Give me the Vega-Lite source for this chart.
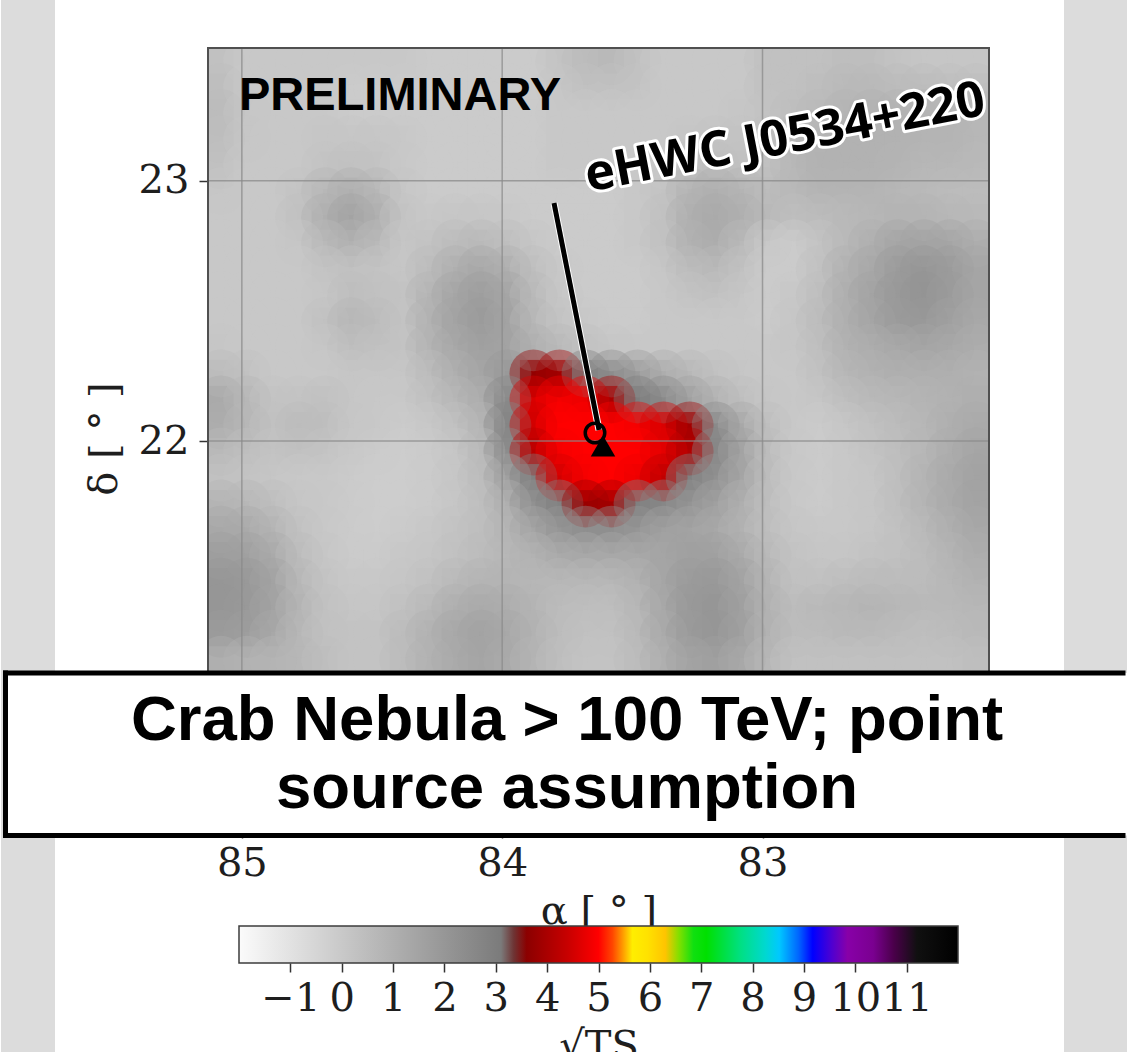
{
  "$schema": "https://vega.github.io/schema/vega-lite/v6.json",
  "background": "#ffffff",
  "padding": 0,
  "autosize": {"type": "pad"},
  "bounds": "flush",
  "center": true,
  "spacing": 97,
  "config": {"view": {"stroke": null}, "axis": {"grid": false, "domain": false}},
  "datasets": {
    "tsmap": [
{"ra":85.08,"dec":23.46,"v":0.3},{"ra":84.98,"dec":23.46,"v":0},{"ra":84.88,"dec":23.46,"v":0},{"ra":84.78,"dec":23.46,"v":0},{"ra":84.68,"dec":23.46,"v":0},{"ra":84.58,"dec":23.46,"v":0},{"ra":84.48,"dec":23.46,"v":0},{"ra":84.38,"dec":23.46,"v":0},{"ra":84.28,"dec":23.46,"v":-0.1},{"ra":84.18,"dec":23.46,"v":-0.1},{"ra":84.08,"dec":23.46,"v":-0.1},{"ra":83.98,"dec":23.46,"v":-0.1},{"ra":83.88,"dec":23.46,"v":-0.1},{"ra":83.78,"dec":23.46,"v":0.2},{"ra":83.68,"dec":23.46,"v":0.5},{"ra":83.58,"dec":23.46,"v":0.6},{"ra":83.48,"dec":23.46,"v":0.3},{"ra":83.38,"dec":23.46,"v":0},{"ra":83.28,"dec":23.46,"v":0},{"ra":83.18,"dec":23.46,"v":0},{"ra":83.08,"dec":23.46,"v":0},{"ra":82.98,"dec":23.46,"v":0.3},{"ra":82.88,"dec":23.46,"v":0.3},{"ra":82.78,"dec":23.46,"v":0.3},{"ra":82.68,"dec":23.46,"v":0.4},{"ra":82.58,"dec":23.46,"v":0.4},{"ra":82.48,"dec":23.46,"v":0.2},{"ra":82.38,"dec":23.46,"v":0.1},{"ra":82.28,"dec":23.46,"v":0.1},{"ra":82.18,"dec":23.46,"v":0.1},
{"ra":85.08,"dec":23.36,"v":0.4},{"ra":84.98,"dec":23.36,"v":0},{"ra":84.88,"dec":23.36,"v":0},{"ra":84.78,"dec":23.36,"v":0},{"ra":84.68,"dec":23.36,"v":0},{"ra":84.58,"dec":23.36,"v":-0.1},{"ra":84.48,"dec":23.36,"v":-0.1},{"ra":84.38,"dec":23.36,"v":-0.1},{"ra":84.28,"dec":23.36,"v":-0.1},{"ra":84.18,"dec":23.36,"v":-0.1},{"ra":84.08,"dec":23.36,"v":-0.1},{"ra":83.98,"dec":23.36,"v":-0.1},{"ra":83.88,"dec":23.36,"v":-0.1},{"ra":83.78,"dec":23.36,"v":0.1},{"ra":83.68,"dec":23.36,"v":0.3},{"ra":83.58,"dec":23.36,"v":0.3},{"ra":83.48,"dec":23.36,"v":0.2},{"ra":83.38,"dec":23.36,"v":0},{"ra":83.28,"dec":23.36,"v":0},{"ra":83.18,"dec":23.36,"v":0},{"ra":83.08,"dec":23.36,"v":0},{"ra":82.98,"dec":23.36,"v":0.3},{"ra":82.88,"dec":23.36,"v":0.3},{"ra":82.78,"dec":23.36,"v":0.4},{"ra":82.68,"dec":23.36,"v":0.6},{"ra":82.58,"dec":23.36,"v":0.6},{"ra":82.48,"dec":23.36,"v":0.5},{"ra":82.38,"dec":23.36,"v":0.5},{"ra":82.28,"dec":23.36,"v":0.4},{"ra":82.18,"dec":23.36,"v":0.4},
{"ra":85.08,"dec":23.26,"v":0.5},{"ra":84.98,"dec":23.26,"v":0.1},{"ra":84.88,"dec":23.26,"v":0},{"ra":84.78,"dec":23.26,"v":0},{"ra":84.68,"dec":23.26,"v":0},{"ra":84.58,"dec":23.26,"v":-0.1},{"ra":84.48,"dec":23.26,"v":-0.1},{"ra":84.38,"dec":23.26,"v":-0.1},{"ra":84.28,"dec":23.26,"v":-0.1},{"ra":84.18,"dec":23.26,"v":-0.1},{"ra":84.08,"dec":23.26,"v":-0.1},{"ra":83.98,"dec":23.26,"v":-0.1},{"ra":83.88,"dec":23.26,"v":-0.1},{"ra":83.78,"dec":23.26,"v":0},{"ra":83.68,"dec":23.26,"v":0},{"ra":83.58,"dec":23.26,"v":0},{"ra":83.48,"dec":23.26,"v":0},{"ra":83.38,"dec":23.26,"v":0},{"ra":83.28,"dec":23.26,"v":0},{"ra":83.18,"dec":23.26,"v":0},{"ra":83.08,"dec":23.26,"v":0.1},{"ra":82.98,"dec":23.26,"v":0.2},{"ra":82.88,"dec":23.26,"v":0.4},{"ra":82.78,"dec":23.26,"v":0.6},{"ra":82.68,"dec":23.26,"v":0.8},{"ra":82.58,"dec":23.26,"v":0.9},{"ra":82.48,"dec":23.26,"v":0.9},{"ra":82.38,"dec":23.26,"v":0.8},{"ra":82.28,"dec":23.26,"v":0.8},{"ra":82.18,"dec":23.26,"v":0.7},
{"ra":85.08,"dec":23.16,"v":0.4},{"ra":84.98,"dec":23.16,"v":0.1},{"ra":84.88,"dec":23.16,"v":0},{"ra":84.78,"dec":23.16,"v":0},{"ra":84.68,"dec":23.16,"v":0.1},{"ra":84.58,"dec":23.16,"v":0.1},{"ra":84.48,"dec":23.16,"v":0.1},{"ra":84.38,"dec":23.16,"v":0},{"ra":84.28,"dec":23.16,"v":-0.1},{"ra":84.18,"dec":23.16,"v":-0.1},{"ra":84.08,"dec":23.16,"v":-0.1},{"ra":83.98,"dec":23.16,"v":-0.1},{"ra":83.88,"dec":23.16,"v":-0.1},{"ra":83.78,"dec":23.16,"v":0},{"ra":83.68,"dec":23.16,"v":0},{"ra":83.58,"dec":23.16,"v":0},{"ra":83.48,"dec":23.16,"v":0},{"ra":83.38,"dec":23.16,"v":0},{"ra":83.28,"dec":23.16,"v":0.1},{"ra":83.18,"dec":23.16,"v":0.2},{"ra":83.08,"dec":23.16,"v":0.2},{"ra":82.98,"dec":23.16,"v":0.3},{"ra":82.88,"dec":23.16,"v":0.6},{"ra":82.78,"dec":23.16,"v":0.8},{"ra":82.68,"dec":23.16,"v":0.9},{"ra":82.58,"dec":23.16,"v":0.9},{"ra":82.48,"dec":23.16,"v":0.9},{"ra":82.38,"dec":23.16,"v":0.8},{"ra":82.28,"dec":23.16,"v":0.8},{"ra":82.18,"dec":23.16,"v":0.7},
{"ra":85.08,"dec":23.06,"v":0.3},{"ra":84.98,"dec":23.06,"v":0},{"ra":84.88,"dec":23.06,"v":0},{"ra":84.78,"dec":23.06,"v":0},{"ra":84.68,"dec":23.06,"v":0.2},{"ra":84.58,"dec":23.06,"v":0.3},{"ra":84.48,"dec":23.06,"v":0.2},{"ra":84.38,"dec":23.06,"v":0},{"ra":84.28,"dec":23.06,"v":-0.1},{"ra":84.18,"dec":23.06,"v":-0.1},{"ra":84.08,"dec":23.06,"v":-0.1},{"ra":83.98,"dec":23.06,"v":-0.1},{"ra":83.88,"dec":23.06,"v":-0.1},{"ra":83.78,"dec":23.06,"v":0},{"ra":83.68,"dec":23.06,"v":0},{"ra":83.58,"dec":23.06,"v":0},{"ra":83.48,"dec":23.06,"v":0},{"ra":83.38,"dec":23.06,"v":0},{"ra":83.28,"dec":23.06,"v":0.3},{"ra":83.18,"dec":23.06,"v":0.4},{"ra":83.08,"dec":23.06,"v":0.3},{"ra":82.98,"dec":23.06,"v":0.3},{"ra":82.88,"dec":23.06,"v":0.7},{"ra":82.78,"dec":23.06,"v":0.9},{"ra":82.68,"dec":23.06,"v":0.9},{"ra":82.58,"dec":23.06,"v":0.9},{"ra":82.48,"dec":23.06,"v":0.8},{"ra":82.38,"dec":23.06,"v":0.7},{"ra":82.28,"dec":23.06,"v":0.7},{"ra":82.18,"dec":23.06,"v":0.6},
{"ra":85.08,"dec":22.96,"v":0.1},{"ra":84.98,"dec":22.96,"v":0},{"ra":84.88,"dec":22.96,"v":0},{"ra":84.78,"dec":22.96,"v":0.2},{"ra":84.68,"dec":22.96,"v":0.7},{"ra":84.58,"dec":22.96,"v":1.0},{"ra":84.48,"dec":22.96,"v":0.7},{"ra":84.38,"dec":22.96,"v":0.1},{"ra":84.28,"dec":22.96,"v":-0.1},{"ra":84.18,"dec":22.96,"v":-0.1},{"ra":84.08,"dec":22.96,"v":-0.1},{"ra":83.98,"dec":22.96,"v":-0.1},{"ra":83.88,"dec":22.96,"v":-0.1},{"ra":83.78,"dec":22.96,"v":-0.1},{"ra":83.68,"dec":22.96,"v":-0.1},{"ra":83.58,"dec":22.96,"v":-0.1},{"ra":83.48,"dec":22.96,"v":0},{"ra":83.38,"dec":22.96,"v":0.2},{"ra":83.28,"dec":22.96,"v":0.8},{"ra":83.18,"dec":22.96,"v":1.0},{"ra":83.08,"dec":22.96,"v":0.8},{"ra":82.98,"dec":22.96,"v":0.5},{"ra":82.88,"dec":22.96,"v":0.6},{"ra":82.78,"dec":22.96,"v":0.8},{"ra":82.68,"dec":22.96,"v":0.8},{"ra":82.58,"dec":22.96,"v":0.8},{"ra":82.48,"dec":22.96,"v":0.7},{"ra":82.38,"dec":22.96,"v":0.6},{"ra":82.28,"dec":22.96,"v":0.5},{"ra":82.18,"dec":22.96,"v":0.5},
{"ra":85.08,"dec":22.86,"v":0},{"ra":84.98,"dec":22.86,"v":0},{"ra":84.88,"dec":22.86,"v":0},{"ra":84.78,"dec":22.86,"v":0.3},{"ra":84.68,"dec":22.86,"v":1.0},{"ra":84.58,"dec":22.86,"v":1.5},{"ra":84.48,"dec":22.86,"v":1.0},{"ra":84.38,"dec":22.86,"v":0.2},{"ra":84.28,"dec":22.86,"v":0},{"ra":84.18,"dec":22.86,"v":0.1},{"ra":84.08,"dec":22.86,"v":0.1},{"ra":83.98,"dec":22.86,"v":0},{"ra":83.88,"dec":22.86,"v":-0.1},{"ra":83.78,"dec":22.86,"v":-0.1},{"ra":83.68,"dec":22.86,"v":-0.1},{"ra":83.58,"dec":22.86,"v":-0.1},{"ra":83.48,"dec":22.86,"v":0},{"ra":83.38,"dec":22.86,"v":0.3},{"ra":83.28,"dec":22.86,"v":1.0},{"ra":83.18,"dec":22.86,"v":1.2},{"ra":83.08,"dec":22.86,"v":1.0},{"ra":82.98,"dec":22.86,"v":0.6},{"ra":82.88,"dec":22.86,"v":0.4},{"ra":82.78,"dec":22.86,"v":0.5},{"ra":82.68,"dec":22.86,"v":0.6},{"ra":82.58,"dec":22.86,"v":0.7},{"ra":82.48,"dec":22.86,"v":0.8},{"ra":82.38,"dec":22.86,"v":0.8},{"ra":82.28,"dec":22.86,"v":0.7},{"ra":82.18,"dec":22.86,"v":0.6},
{"ra":85.08,"dec":22.76,"v":0},{"ra":84.98,"dec":22.76,"v":0},{"ra":84.88,"dec":22.76,"v":0},{"ra":84.78,"dec":22.76,"v":0.1},{"ra":84.68,"dec":22.76,"v":0.6},{"ra":84.58,"dec":22.76,"v":0.9},{"ra":84.48,"dec":22.76,"v":0.6},{"ra":84.38,"dec":22.76,"v":0.1},{"ra":84.28,"dec":22.76,"v":0.2},{"ra":84.18,"dec":22.76,"v":0.5},{"ra":84.08,"dec":22.76,"v":0.6},{"ra":83.98,"dec":22.76,"v":0.4},{"ra":83.88,"dec":22.76,"v":0.1},{"ra":83.78,"dec":22.76,"v":-0.1},{"ra":83.68,"dec":22.76,"v":-0.1},{"ra":83.58,"dec":22.76,"v":-0.1},{"ra":83.48,"dec":22.76,"v":0},{"ra":83.38,"dec":22.76,"v":0.3},{"ra":83.28,"dec":22.76,"v":0.9},{"ra":83.18,"dec":22.76,"v":1.1},{"ra":83.08,"dec":22.76,"v":0.6},{"ra":82.98,"dec":22.76,"v":0},{"ra":82.88,"dec":22.76,"v":-0.1},{"ra":82.78,"dec":22.76,"v":0.2},{"ra":82.68,"dec":22.76,"v":0.6},{"ra":82.58,"dec":22.76,"v":1.0},{"ra":82.48,"dec":22.76,"v":1.4},{"ra":82.38,"dec":22.76,"v":1.5},{"ra":82.28,"dec":22.76,"v":1.4},{"ra":82.18,"dec":22.76,"v":1.1},
{"ra":85.08,"dec":22.66,"v":0},{"ra":84.98,"dec":22.66,"v":0},{"ra":84.88,"dec":22.66,"v":0},{"ra":84.78,"dec":22.66,"v":0},{"ra":84.68,"dec":22.66,"v":0.2},{"ra":84.58,"dec":22.66,"v":0.3},{"ra":84.48,"dec":22.66,"v":0.2},{"ra":84.38,"dec":22.66,"v":0.1},{"ra":84.28,"dec":22.66,"v":0.5},{"ra":84.18,"dec":22.66,"v":1.0},{"ra":84.08,"dec":22.66,"v":1.3},{"ra":83.98,"dec":22.66,"v":1.0},{"ra":83.88,"dec":22.66,"v":0.4},{"ra":83.78,"dec":22.66,"v":0},{"ra":83.68,"dec":22.66,"v":-0.1},{"ra":83.58,"dec":22.66,"v":-0.1},{"ra":83.48,"dec":22.66,"v":-0.1},{"ra":83.38,"dec":22.66,"v":0.1},{"ra":83.28,"dec":22.66,"v":0.5},{"ra":83.18,"dec":22.66,"v":0.6},{"ra":83.08,"dec":22.66,"v":0.3},{"ra":82.98,"dec":22.66,"v":-0.1},{"ra":82.88,"dec":22.66,"v":-0.1},{"ra":82.78,"dec":22.66,"v":0.3},{"ra":82.68,"dec":22.66,"v":0.9},{"ra":82.58,"dec":22.66,"v":1.3},{"ra":82.48,"dec":22.66,"v":1.8},{"ra":82.38,"dec":22.66,"v":2.0},{"ra":82.28,"dec":22.66,"v":1.8},{"ra":82.18,"dec":22.66,"v":1.4},
{"ra":85.08,"dec":22.56,"v":0},{"ra":84.98,"dec":22.56,"v":0},{"ra":84.88,"dec":22.56,"v":0},{"ra":84.78,"dec":22.56,"v":0},{"ra":84.68,"dec":22.56,"v":0.1},{"ra":84.58,"dec":22.56,"v":0.4},{"ra":84.48,"dec":22.56,"v":0.3},{"ra":84.38,"dec":22.56,"v":0.2},{"ra":84.28,"dec":22.56,"v":0.8},{"ra":84.18,"dec":22.56,"v":1.4},{"ra":84.08,"dec":22.56,"v":1.7},{"ra":83.98,"dec":22.56,"v":1.4},{"ra":83.88,"dec":22.56,"v":0.6},{"ra":83.78,"dec":22.56,"v":0.1},{"ra":83.68,"dec":22.56,"v":-0.1},{"ra":83.58,"dec":22.56,"v":-0.1},{"ra":83.48,"dec":22.56,"v":-0.1},{"ra":83.38,"dec":22.56,"v":0},{"ra":83.28,"dec":22.56,"v":0.2},{"ra":83.18,"dec":22.56,"v":0.3},{"ra":83.08,"dec":22.56,"v":0.1},{"ra":82.98,"dec":22.56,"v":-0.1},{"ra":82.88,"dec":22.56,"v":0},{"ra":82.78,"dec":22.56,"v":0.4},{"ra":82.68,"dec":22.56,"v":1.0},{"ra":82.58,"dec":22.56,"v":1.5},{"ra":82.48,"dec":22.56,"v":1.9},{"ra":82.38,"dec":22.56,"v":2.1},{"ra":82.28,"dec":22.56,"v":1.8},{"ra":82.18,"dec":22.56,"v":1.4},
{"ra":85.08,"dec":22.46,"v":0},{"ra":84.98,"dec":22.46,"v":0},{"ra":84.88,"dec":22.46,"v":0},{"ra":84.78,"dec":22.46,"v":0},{"ra":84.68,"dec":22.46,"v":0.3},{"ra":84.58,"dec":22.46,"v":0.7},{"ra":84.48,"dec":22.46,"v":0.5},{"ra":84.38,"dec":22.46,"v":0.2},{"ra":84.28,"dec":22.46,"v":0.9},{"ra":84.18,"dec":22.46,"v":1.5},{"ra":84.08,"dec":22.46,"v":1.8},{"ra":83.98,"dec":22.46,"v":1.5},{"ra":83.88,"dec":22.46,"v":0.7},{"ra":83.78,"dec":22.46,"v":0.2},{"ra":83.68,"dec":22.46,"v":0},{"ra":83.58,"dec":22.46,"v":-0.1},{"ra":83.48,"dec":22.46,"v":-0.1},{"ra":83.38,"dec":22.46,"v":0},{"ra":83.28,"dec":22.46,"v":0},{"ra":83.18,"dec":22.46,"v":0},{"ra":83.08,"dec":22.46,"v":0},{"ra":82.98,"dec":22.46,"v":-0.1},{"ra":82.88,"dec":22.46,"v":0.1},{"ra":82.78,"dec":22.46,"v":0.5},{"ra":82.68,"dec":22.46,"v":1.0},{"ra":82.58,"dec":22.46,"v":1.4},{"ra":82.48,"dec":22.46,"v":1.8},{"ra":82.38,"dec":22.46,"v":1.9},{"ra":82.28,"dec":22.46,"v":1.6},{"ra":82.18,"dec":22.46,"v":1.3},
{"ra":85.08,"dec":22.36,"v":0.1},{"ra":84.98,"dec":22.36,"v":0},{"ra":84.88,"dec":22.36,"v":0},{"ra":84.78,"dec":22.36,"v":0},{"ra":84.68,"dec":22.36,"v":0.1},{"ra":84.58,"dec":22.36,"v":0.4},{"ra":84.48,"dec":22.36,"v":0.3},{"ra":84.38,"dec":22.36,"v":0.2},{"ra":84.28,"dec":22.36,"v":0.8},{"ra":84.18,"dec":22.36,"v":1.3},{"ra":84.08,"dec":22.36,"v":1.6},{"ra":83.98,"dec":22.36,"v":1.5},{"ra":83.88,"dec":22.36,"v":1.0},{"ra":83.78,"dec":22.36,"v":0.6},{"ra":83.68,"dec":22.36,"v":0.3},{"ra":83.58,"dec":22.36,"v":0.1},{"ra":83.48,"dec":22.36,"v":0},{"ra":83.38,"dec":22.36,"v":0},{"ra":83.28,"dec":22.36,"v":0},{"ra":83.18,"dec":22.36,"v":0},{"ra":83.08,"dec":22.36,"v":0},{"ra":82.98,"dec":22.36,"v":0},{"ra":82.88,"dec":22.36,"v":0.1},{"ra":82.78,"dec":22.36,"v":0.4},{"ra":82.68,"dec":22.36,"v":0.9},{"ra":82.58,"dec":22.36,"v":1.1},{"ra":82.48,"dec":22.36,"v":1.3},{"ra":82.38,"dec":22.36,"v":1.4},{"ra":82.28,"dec":22.36,"v":1.3},{"ra":82.18,"dec":22.36,"v":1.1},
{"ra":85.08,"dec":22.26,"v":0.5},{"ra":84.98,"dec":22.26,"v":0.3},{"ra":84.88,"dec":22.26,"v":0},{"ra":84.78,"dec":22.26,"v":0},{"ra":84.68,"dec":22.26,"v":0},{"ra":84.58,"dec":22.26,"v":0.1},{"ra":84.48,"dec":22.26,"v":0.1},{"ra":84.38,"dec":22.26,"v":0.1},{"ra":84.28,"dec":22.26,"v":0.5},{"ra":84.18,"dec":22.26,"v":1.0},{"ra":84.08,"dec":22.26,"v":1.4},{"ra":83.98,"dec":22.26,"v":1.9},{"ra":83.88,"dec":22.26,"v":3.7},{"ra":83.78,"dec":22.26,"v":3.9},{"ra":83.68,"dec":22.26,"v":2.9},{"ra":83.58,"dec":22.26,"v":2.4},{"ra":83.48,"dec":22.26,"v":1.8},{"ra":83.38,"dec":22.26,"v":1.1},{"ra":83.28,"dec":22.26,"v":0.7},{"ra":83.18,"dec":22.26,"v":0.3},{"ra":83.08,"dec":22.26,"v":0.1},{"ra":82.98,"dec":22.26,"v":0},{"ra":82.88,"dec":22.26,"v":0},{"ra":82.78,"dec":22.26,"v":0.3},{"ra":82.68,"dec":22.26,"v":0.7},{"ra":82.58,"dec":22.26,"v":0.9},{"ra":82.48,"dec":22.26,"v":1.0},{"ra":82.38,"dec":22.26,"v":1.0},{"ra":82.28,"dec":22.26,"v":1.0},{"ra":82.18,"dec":22.26,"v":0.9},
{"ra":85.08,"dec":22.16,"v":1.2},{"ra":84.98,"dec":22.16,"v":0.7},{"ra":84.88,"dec":22.16,"v":0.2},{"ra":84.78,"dec":22.16,"v":0.2},{"ra":84.68,"dec":22.16,"v":0.3},{"ra":84.58,"dec":22.16,"v":0.1},{"ra":84.48,"dec":22.16,"v":0},{"ra":84.38,"dec":22.16,"v":0},{"ra":84.28,"dec":22.16,"v":0.3},{"ra":84.18,"dec":22.16,"v":0.7},{"ra":84.08,"dec":22.16,"v":1.1},{"ra":83.98,"dec":22.16,"v":2.5},{"ra":83.88,"dec":22.16,"v":4.6},{"ra":83.78,"dec":22.16,"v":4.9},{"ra":83.68,"dec":22.16,"v":4.8},{"ra":83.58,"dec":22.16,"v":4.0},{"ra":83.48,"dec":22.16,"v":3.0},{"ra":83.38,"dec":22.16,"v":2.5},{"ra":83.28,"dec":22.16,"v":1.6},{"ra":83.18,"dec":22.16,"v":0.9},{"ra":83.08,"dec":22.16,"v":0.4},{"ra":82.98,"dec":22.16,"v":0.1},{"ra":82.88,"dec":22.16,"v":0},{"ra":82.78,"dec":22.16,"v":0.1},{"ra":82.68,"dec":22.16,"v":0.4},{"ra":82.58,"dec":22.16,"v":0.6},{"ra":82.48,"dec":22.16,"v":0.7},{"ra":82.38,"dec":22.16,"v":0.8},{"ra":82.28,"dec":22.16,"v":0.9},{"ra":82.18,"dec":22.16,"v":1.0},
{"ra":85.08,"dec":22.06,"v":1.1},{"ra":84.98,"dec":22.06,"v":0.7},{"ra":84.88,"dec":22.06,"v":0.3},{"ra":84.78,"dec":22.06,"v":0.5},{"ra":84.68,"dec":22.06,"v":0.4},{"ra":84.58,"dec":22.06,"v":0.1},{"ra":84.48,"dec":22.06,"v":0},{"ra":84.38,"dec":22.06,"v":-0.1},{"ra":84.28,"dec":22.06,"v":0},{"ra":84.18,"dec":22.06,"v":0.3},{"ra":84.08,"dec":22.06,"v":0.8},{"ra":83.98,"dec":22.06,"v":2.7},{"ra":83.88,"dec":22.06,"v":4.5},{"ra":83.78,"dec":22.06,"v":5.0},{"ra":83.68,"dec":22.06,"v":5.0},{"ra":83.58,"dec":22.06,"v":5.0},{"ra":83.48,"dec":22.06,"v":4.9},{"ra":83.38,"dec":22.06,"v":4.6},{"ra":83.28,"dec":22.06,"v":3.9},{"ra":83.18,"dec":22.06,"v":2.5},{"ra":83.08,"dec":22.06,"v":1.3},{"ra":82.98,"dec":22.06,"v":0.4},{"ra":82.88,"dec":22.06,"v":0},{"ra":82.78,"dec":22.06,"v":-0.1},{"ra":82.68,"dec":22.06,"v":0.1},{"ra":82.58,"dec":22.06,"v":0.3},{"ra":82.48,"dec":22.06,"v":0.5},{"ra":82.38,"dec":22.06,"v":0.7},{"ra":82.28,"dec":22.06,"v":1.0},{"ra":82.18,"dec":22.06,"v":1.2},
{"ra":85.08,"dec":21.96,"v":0.6},{"ra":84.98,"dec":21.96,"v":0.4},{"ra":84.88,"dec":21.96,"v":0.2},{"ra":84.78,"dec":21.96,"v":0.3},{"ra":84.68,"dec":21.96,"v":0.2},{"ra":84.58,"dec":21.96,"v":0},{"ra":84.48,"dec":21.96,"v":-0.1},{"ra":84.38,"dec":21.96,"v":-0.2},{"ra":84.28,"dec":21.96,"v":-0.1},{"ra":84.18,"dec":21.96,"v":0.1},{"ra":84.08,"dec":21.96,"v":0.6},{"ra":83.98,"dec":21.96,"v":2.4},{"ra":83.88,"dec":21.96,"v":4.2},{"ra":83.78,"dec":21.96,"v":4.9},{"ra":83.68,"dec":21.96,"v":5.0},{"ra":83.58,"dec":21.96,"v":5.0},{"ra":83.48,"dec":21.96,"v":5.0},{"ra":83.38,"dec":21.96,"v":4.7},{"ra":83.28,"dec":21.96,"v":4.1},{"ra":83.18,"dec":21.96,"v":2.6},{"ra":83.08,"dec":21.96,"v":1.5},{"ra":82.98,"dec":21.96,"v":0.5},{"ra":82.88,"dec":21.96,"v":0},{"ra":82.78,"dec":21.96,"v":-0.1},{"ra":82.68,"dec":21.96,"v":0},{"ra":82.58,"dec":21.96,"v":0.2},{"ra":82.48,"dec":21.96,"v":0.4},{"ra":82.38,"dec":21.96,"v":0.7},{"ra":82.28,"dec":21.96,"v":1.1},{"ra":82.18,"dec":21.96,"v":1.4},
{"ra":85.08,"dec":21.86,"v":0.3},{"ra":84.98,"dec":21.86,"v":0.2},{"ra":84.88,"dec":21.86,"v":0.1},{"ra":84.78,"dec":21.86,"v":0},{"ra":84.68,"dec":21.86,"v":0},{"ra":84.58,"dec":21.86,"v":-0.1},{"ra":84.48,"dec":21.86,"v":-0.2},{"ra":84.38,"dec":21.86,"v":-0.2},{"ra":84.28,"dec":21.86,"v":-0.1},{"ra":84.18,"dec":21.86,"v":0.1},{"ra":84.08,"dec":21.86,"v":0.5},{"ra":83.98,"dec":21.86,"v":1.6},{"ra":83.88,"dec":21.86,"v":2.9},{"ra":83.78,"dec":21.86,"v":4.5},{"ra":83.68,"dec":21.86,"v":4.9},{"ra":83.58,"dec":21.86,"v":5.0},{"ra":83.48,"dec":21.86,"v":4.8},{"ra":83.38,"dec":21.86,"v":4.3},{"ra":83.28,"dec":21.86,"v":2.9},{"ra":83.18,"dec":21.86,"v":2.2},{"ra":83.08,"dec":21.86,"v":1.4},{"ra":82.98,"dec":21.86,"v":0.5},{"ra":82.88,"dec":21.86,"v":0},{"ra":82.78,"dec":21.86,"v":-0.1},{"ra":82.68,"dec":21.86,"v":0},{"ra":82.58,"dec":21.86,"v":0.1},{"ra":82.48,"dec":21.86,"v":0.4},{"ra":82.38,"dec":21.86,"v":0.8},{"ra":82.28,"dec":21.86,"v":1.2},{"ra":82.18,"dec":21.86,"v":1.5},
{"ra":85.08,"dec":21.76,"v":0.8},{"ra":84.98,"dec":21.76,"v":0.7},{"ra":84.88,"dec":21.76,"v":0.4},{"ra":84.78,"dec":21.76,"v":0.1},{"ra":84.68,"dec":21.76,"v":0},{"ra":84.58,"dec":21.76,"v":-0.1},{"ra":84.48,"dec":21.76,"v":-0.2},{"ra":84.38,"dec":21.76,"v":-0.2},{"ra":84.28,"dec":21.76,"v":-0.1},{"ra":84.18,"dec":21.76,"v":0.1},{"ra":84.08,"dec":21.76,"v":0.4},{"ra":83.98,"dec":21.76,"v":1.0},{"ra":83.88,"dec":21.76,"v":2.2},{"ra":83.78,"dec":21.76,"v":2.8},{"ra":83.68,"dec":21.76,"v":3.8},{"ra":83.58,"dec":21.76,"v":3.9},{"ra":83.48,"dec":21.76,"v":2.9},{"ra":83.38,"dec":21.76,"v":2.6},{"ra":83.28,"dec":21.76,"v":2.1},{"ra":83.18,"dec":21.76,"v":1.6},{"ra":83.08,"dec":21.76,"v":1.0},{"ra":82.98,"dec":21.76,"v":0.4},{"ra":82.88,"dec":21.76,"v":0},{"ra":82.78,"dec":21.76,"v":-0.1},{"ra":82.68,"dec":21.76,"v":0},{"ra":82.58,"dec":21.76,"v":0.1},{"ra":82.48,"dec":21.76,"v":0.4},{"ra":82.38,"dec":21.76,"v":0.8},{"ra":82.28,"dec":21.76,"v":1.2},{"ra":82.18,"dec":21.76,"v":1.5},
{"ra":85.08,"dec":21.66,"v":1.3},{"ra":84.98,"dec":21.66,"v":1.2},{"ra":84.88,"dec":21.66,"v":0.8},{"ra":84.78,"dec":21.66,"v":0.3},{"ra":84.68,"dec":21.66,"v":0},{"ra":84.58,"dec":21.66,"v":-0.1},{"ra":84.48,"dec":21.66,"v":-0.2},{"ra":84.38,"dec":21.66,"v":-0.1},{"ra":84.28,"dec":21.66,"v":0},{"ra":84.18,"dec":21.66,"v":0.2},{"ra":84.08,"dec":21.66,"v":0.4},{"ra":83.98,"dec":21.66,"v":0.8},{"ra":83.88,"dec":21.66,"v":1.4},{"ra":83.78,"dec":21.66,"v":2.0},{"ra":83.68,"dec":21.66,"v":2.3},{"ra":83.58,"dec":21.66,"v":2.3},{"ra":83.48,"dec":21.66,"v":2.0},{"ra":83.38,"dec":21.66,"v":1.6},{"ra":83.28,"dec":21.66,"v":1.5},{"ra":83.18,"dec":21.66,"v":1.3},{"ra":83.08,"dec":21.66,"v":0.9},{"ra":82.98,"dec":21.66,"v":0.4},{"ra":82.88,"dec":21.66,"v":0.1},{"ra":82.78,"dec":21.66,"v":0},{"ra":82.68,"dec":21.66,"v":0},{"ra":82.58,"dec":21.66,"v":0.1},{"ra":82.48,"dec":21.66,"v":0.3},{"ra":82.38,"dec":21.66,"v":0.6},{"ra":82.28,"dec":21.66,"v":1.0},{"ra":82.18,"dec":21.66,"v":1.3},
{"ra":85.08,"dec":21.56,"v":1.7},{"ra":84.98,"dec":21.56,"v":1.6},{"ra":84.88,"dec":21.56,"v":1.2},{"ra":84.78,"dec":21.56,"v":0.5},{"ra":84.68,"dec":21.56,"v":0.1},{"ra":84.58,"dec":21.56,"v":-0.1},{"ra":84.48,"dec":21.56,"v":-0.1},{"ra":84.38,"dec":21.56,"v":0},{"ra":84.28,"dec":21.56,"v":0.1},{"ra":84.18,"dec":21.56,"v":0.3},{"ra":84.08,"dec":21.56,"v":0.5},{"ra":83.98,"dec":21.56,"v":0.7},{"ra":83.88,"dec":21.56,"v":0.9},{"ra":83.78,"dec":21.56,"v":1.2},{"ra":83.68,"dec":21.56,"v":1.3},{"ra":83.58,"dec":21.56,"v":1.3},{"ra":83.48,"dec":21.56,"v":1.3},{"ra":83.38,"dec":21.56,"v":1.4},{"ra":83.28,"dec":21.56,"v":1.6},{"ra":83.18,"dec":21.56,"v":1.6},{"ra":83.08,"dec":21.56,"v":1.2},{"ra":82.98,"dec":21.56,"v":0.6},{"ra":82.88,"dec":21.56,"v":0.2},{"ra":82.78,"dec":21.56,"v":0.1},{"ra":82.68,"dec":21.56,"v":0.1},{"ra":82.58,"dec":21.56,"v":0.2},{"ra":82.48,"dec":21.56,"v":0.3},{"ra":82.38,"dec":21.56,"v":0.5},{"ra":82.28,"dec":21.56,"v":0.8},{"ra":82.18,"dec":21.56,"v":1.1},
{"ra":85.08,"dec":21.46,"v":2.0},{"ra":84.98,"dec":21.46,"v":1.9},{"ra":84.88,"dec":21.46,"v":1.5},{"ra":84.78,"dec":21.46,"v":0.7},{"ra":84.68,"dec":21.46,"v":0.2},{"ra":84.58,"dec":21.46,"v":0},{"ra":84.48,"dec":21.46,"v":0},{"ra":84.38,"dec":21.46,"v":0.1},{"ra":84.28,"dec":21.46,"v":0.3},{"ra":84.18,"dec":21.46,"v":0.6},{"ra":84.08,"dec":21.46,"v":0.8},{"ra":83.98,"dec":21.46,"v":0.8},{"ra":83.88,"dec":21.46,"v":0.7},{"ra":83.78,"dec":21.46,"v":0.7},{"ra":83.68,"dec":21.46,"v":0.7},{"ra":83.58,"dec":21.46,"v":0.7},{"ra":83.48,"dec":21.46,"v":0.9},{"ra":83.38,"dec":21.46,"v":1.4},{"ra":83.28,"dec":21.46,"v":1.8},{"ra":83.18,"dec":21.46,"v":1.9},{"ra":83.08,"dec":21.46,"v":1.5},{"ra":82.98,"dec":21.46,"v":0.8},{"ra":82.88,"dec":21.46,"v":0.3},{"ra":82.78,"dec":21.46,"v":0.3},{"ra":82.68,"dec":21.46,"v":0.4},{"ra":82.58,"dec":21.46,"v":0.5},{"ra":82.48,"dec":21.46,"v":0.5},{"ra":82.38,"dec":21.46,"v":0.5},{"ra":82.28,"dec":21.46,"v":0.7},{"ra":82.18,"dec":21.46,"v":0.9},
{"ra":85.08,"dec":21.36,"v":2.0},{"ra":84.98,"dec":21.36,"v":1.9},{"ra":84.88,"dec":21.36,"v":1.5},{"ra":84.78,"dec":21.36,"v":0.8},{"ra":84.68,"dec":21.36,"v":0.3},{"ra":84.58,"dec":21.36,"v":0.1},{"ra":84.48,"dec":21.36,"v":0.1},{"ra":84.38,"dec":21.36,"v":0.3},{"ra":84.28,"dec":21.36,"v":0.6},{"ra":84.18,"dec":21.36,"v":1.0},{"ra":84.08,"dec":21.36,"v":1.2},{"ra":83.98,"dec":21.36,"v":1.1},{"ra":83.88,"dec":21.36,"v":0.8},{"ra":83.78,"dec":21.36,"v":0.5},{"ra":83.68,"dec":21.36,"v":0.4},{"ra":83.58,"dec":21.36,"v":0.4},{"ra":83.48,"dec":21.36,"v":0.7},{"ra":83.38,"dec":21.36,"v":1.3},{"ra":83.28,"dec":21.36,"v":1.9},{"ra":83.18,"dec":21.36,"v":2.0},{"ra":83.08,"dec":21.36,"v":1.6},{"ra":82.98,"dec":21.36,"v":0.9},{"ra":82.88,"dec":21.36,"v":0.5},{"ra":82.78,"dec":21.36,"v":0.6},{"ra":82.68,"dec":21.36,"v":0.7},{"ra":82.58,"dec":21.36,"v":0.8},{"ra":82.48,"dec":21.36,"v":0.7},{"ra":82.38,"dec":21.36,"v":0.6},{"ra":82.28,"dec":21.36,"v":0.6},{"ra":82.18,"dec":21.36,"v":0.7},
{"ra":85.08,"dec":21.26,"v":1.8},{"ra":84.98,"dec":21.26,"v":1.7},{"ra":84.88,"dec":21.26,"v":1.3},{"ra":84.78,"dec":21.26,"v":0.7},{"ra":84.68,"dec":21.26,"v":0.3},{"ra":84.58,"dec":21.26,"v":0.2},{"ra":84.48,"dec":21.26,"v":0.2},{"ra":84.38,"dec":21.26,"v":0.5},{"ra":84.28,"dec":21.26,"v":0.9},{"ra":84.18,"dec":21.26,"v":1.3},{"ra":84.08,"dec":21.26,"v":1.5},{"ra":83.98,"dec":21.26,"v":1.3},{"ra":83.88,"dec":21.26,"v":0.9},{"ra":83.78,"dec":21.26,"v":0.5},{"ra":83.68,"dec":21.26,"v":0.3},{"ra":83.58,"dec":21.26,"v":0.3},{"ra":83.48,"dec":21.26,"v":0.6},{"ra":83.38,"dec":21.26,"v":1.2},{"ra":83.28,"dec":21.26,"v":1.8},{"ra":83.18,"dec":21.26,"v":2.0},{"ra":83.08,"dec":21.26,"v":1.6},{"ra":82.98,"dec":21.26,"v":0.9},{"ra":82.88,"dec":21.26,"v":0.5},{"ra":82.78,"dec":21.26,"v":0.5},{"ra":82.68,"dec":21.26,"v":0.6},{"ra":82.58,"dec":21.26,"v":0.6},{"ra":82.48,"dec":21.26,"v":0.5},{"ra":82.38,"dec":21.26,"v":0.4},{"ra":82.28,"dec":21.26,"v":0.5},{"ra":82.18,"dec":21.26,"v":0.6},
{"ra":85.08,"dec":21.16,"v":1.0},{"ra":84.98,"dec":21.16,"v":0.9},{"ra":84.88,"dec":21.16,"v":0.8},{"ra":84.78,"dec":21.16,"v":0.7},{"ra":84.68,"dec":21.16,"v":0.4},{"ra":84.58,"dec":21.16,"v":0.2},{"ra":84.48,"dec":21.16,"v":0.2},{"ra":84.38,"dec":21.16,"v":0.5},{"ra":84.28,"dec":21.16,"v":0.9},{"ra":84.18,"dec":21.16,"v":1.2},{"ra":84.08,"dec":21.16,"v":1.4},{"ra":83.98,"dec":21.16,"v":1.2},{"ra":83.88,"dec":21.16,"v":0.8},{"ra":83.78,"dec":21.16,"v":0.4},{"ra":83.68,"dec":21.16,"v":0.2},{"ra":83.58,"dec":21.16,"v":0.2},{"ra":83.48,"dec":21.16,"v":0.5},{"ra":83.38,"dec":21.16,"v":1.0},{"ra":83.28,"dec":21.16,"v":1.5},{"ra":83.18,"dec":21.16,"v":1.6},{"ra":83.08,"dec":21.16,"v":1.3},{"ra":82.98,"dec":21.16,"v":0.7},{"ra":82.88,"dec":21.16,"v":0.3},{"ra":82.78,"dec":21.16,"v":0.3},{"ra":82.68,"dec":21.16,"v":0.3},{"ra":82.58,"dec":21.16,"v":0.3},{"ra":82.48,"dec":21.16,"v":0.3},{"ra":82.38,"dec":21.16,"v":0.3},{"ra":82.28,"dec":21.16,"v":0.3},{"ra":82.18,"dec":21.16,"v":0.4}
    ],
    "ra_grid": [{"ra": 85}, {"ra": 84}, {"ra": 83}],
    "dec_grid": [{"dec": 23}, {"dec": 22}, {"dec": 21}]
  },
  "vconcat": [
    {
      "width": 781,
      "height": 781,
      "layer": [
        {
          "data": {"values": [{}]},
          "mark": {"type": "rect", "fill": "#dcdcdc"},
          "encoding": {
            "x": {"datum": 85.925134, "type": "quantitative", "scale": {"domain": [85.13, 82.13], "nice": false, "zero": false}},
            "x2": {"datum": 85.717704},
            "y": {"datum": 23.694378, "type": "quantitative", "scale": {"domain": [20.51, 23.51], "nice": false, "zero": false}},
            "y2": {"datum": 19.653437}
          }
        },
        {
          "data": {"values": [{}]},
          "mark": {"type": "rect", "fill": "#dcdcdc"},
          "encoding": {
            "x": {"datum": 81.841933, "type": "quantitative", "scale": {"domain": [85.13, 82.13], "nice": false, "zero": false}},
            "x2": {"datum": 81.596096},
            "y": {"datum": 23.694378, "type": "quantitative", "scale": {"domain": [20.51, 23.51], "nice": false, "zero": false}},
            "y2": {"datum": 19.653437}
          }
        },
        {
          "data": {"name": "tsmap"},
          "mark": {"type": "square", "size": 729, "opacity": 1, "strokeWidth": 0, "clip": true},
          "encoding": {
            "x": {
              "field": "ra", "type": "quantitative",
              "scale": {"domain": [85.13, 82.13], "nice": false, "zero": false},
              "axis": {
                "orient": "bottom", "values": [85, 84, 83], "format": "d", "title": "α [ ° ]",
                "tickSize": 9, "tickWidth": 1.5, "tickColor": "#333333",
                "labelFont": "DejaVu Serif", "labelFontSize": 40, "labelColor": "#1e1e1e", "labelPadding": 5,
                "labelFlush": false, "labelOverlap": false,
                "titleFont": "DejaVu Serif", "titleFontSize": 40, "titleFontWeight": "normal", "titleColor": "#1e1e1e", "titlePadding": 8
              }
            },
            "y": {
              "field": "dec", "type": "quantitative",
              "scale": {"domain": [20.51, 23.51], "nice": false, "zero": false},
              "axis": {
                "orient": "left", "values": [23, 22], "format": "d", "title": "δ [ ° ]",
                "tickSize": 9, "tickWidth": 1.5, "tickColor": "#333333",
                "labelFont": "DejaVu Serif", "labelFontSize": 40, "labelColor": "#1e1e1e", "labelPadding": 10,
                "labelFlush": false, "labelOverlap": false,
                "titleFont": "DejaVu Serif", "titleFontSize": 40, "titleFontWeight": "normal", "titleColor": "#1e1e1e", "titlePadding": 14
              }
            },
            "color": {
              "field": "v", "type": "quantitative", "legend": null,
              "scale": {
                "type": "linear", "interpolate": "rgb", "clamp": true,
                "domain": [-2, 3.1, 3.35, 3.6, 4.4, 5.0, 5.27, 5.46, 5.66, 5.95, 6.3, 6.57, 6.85, 7.1, 7.75, 8.25, 8.52, 8.9, 9.17, 9.55, 9.85, 10.35, 10.75, 11.2, 12],
                "range": ["#fbfbfb", "#7b7b7b", "#6e3434", "#8b0000", "#c80000", "#ff0000", "#ff4500", "#ff9500", "#ffee00", "#ffe200", "#ffc400", "#80e000", "#10e010", "#00e000", "#00e080", "#00d8d0", "#00c8ff", "#0064ff", "#0000ff", "#5000d0", "#8800a8", "#7a0090", "#4a004a", "#101010", "#000000"]
              }
            }
          }
        },
        {
          "data": {"name": "tsmap"},
          "mark": {"type": "circle", "size": 2300, "opacity": 0.4, "strokeWidth": 0, "clip": true},
          "encoding": {
            "x": {"field": "ra", "type": "quantitative", "scale": {"domain": [85.13, 82.13], "nice": false, "zero": false}},
            "y": {"field": "dec", "type": "quantitative", "scale": {"domain": [20.51, 23.51], "nice": false, "zero": false}},
            "color": {"field": "v", "type": "quantitative", "legend": null}
          }
        },
        {
          "data": {"name": "ra_grid"},
          "mark": {"type": "rule", "stroke": "#8a8a8a", "strokeWidth": 1.5, "opacity": 0.75},
          "encoding": {
            "x": {"field": "ra", "type": "quantitative", "scale": {"domain": [85.13, 82.13], "nice": false, "zero": false}}
          }
        },
        {
          "data": {"name": "dec_grid"},
          "mark": {"type": "rule", "stroke": "#8a8a8a", "strokeWidth": 1.5, "opacity": 0.75},
          "encoding": {
            "y": {"field": "dec", "type": "quantitative", "scale": {"domain": [20.51, 23.51], "nice": false, "zero": false}}
          }
        },
        {
          "data": {"values": [{}]},
          "mark": {"type": "rect", "fillOpacity": 0, "stroke": "#505050", "strokeWidth": 2},
          "encoding": {
            "x": {"datum": 85.13, "type": "quantitative", "scale": {"domain": [85.13, 82.13], "nice": false, "zero": false}},
            "x2": {"datum": 82.13},
            "y": {"datum": 20.51, "type": "quantitative", "scale": {"domain": [20.51, 23.51], "nice": false, "zero": false}},
            "y2": {"datum": 23.51}
          }
        },
        {
          "data": {"values": [{}]},
          "mark": {"type": "rule", "stroke": "#ffffff", "strokeWidth": 7},
          "encoding": {
            "x": {"datum": 83.80094, "type": "quantitative", "scale": {"domain": [85.13, 82.13], "nice": false, "zero": false}},
            "x2": {"datum": 83.62809},
            "y": {"datum": 22.91461, "type": "quantitative", "scale": {"domain": [20.51, 23.51], "nice": false, "zero": false}},
            "y2": {"datum": 22.04266}
          }
        },
        {
          "data": {"values": [{}]},
          "mark": {"type": "rule", "stroke": "#000000", "strokeWidth": 5},
          "encoding": {
            "x": {"datum": 83.80094, "type": "quantitative", "scale": {"domain": [85.13, 82.13], "nice": false, "zero": false}},
            "x2": {"datum": 83.62809},
            "y": {"datum": 22.91461, "type": "quantitative", "scale": {"domain": [20.51, 23.51], "nice": false, "zero": false}},
            "y2": {"datum": 22.04266}
          }
        },
        {
          "data": {"values": [{}]},
          "mark": {"type": "point", "shape": "circle", "filled": false, "size": 380, "stroke": "#000000", "strokeWidth": 3.5, "opacity": 1},
          "encoding": {
            "x": {"datum": 83.64346, "type": "quantitative", "scale": {"domain": [85.13, 82.13], "nice": false, "zero": false}},
            "y": {"datum": 22.03114, "type": "quantitative", "scale": {"domain": [20.51, 23.51], "nice": false, "zero": false}}
          }
        },
        {
          "data": {"values": [{}]},
          "mark": {"type": "point", "shape": "triangle-up", "filled": true, "size": 600, "fill": "#000000", "strokeWidth": 0, "opacity": 1},
          "encoding": {
            "x": {"datum": 83.61273, "type": "quantitative", "scale": {"domain": [85.13, 82.13], "nice": false, "zero": false}},
            "y": {"datum": 21.9812, "type": "quantitative", "scale": {"domain": [20.51, 23.51], "nice": false, "zero": false}}
          }
        },
        {
          "data": {"values": [{}]},
          "mark": {"type": "text", "text": "PRELIMINARY", "font": "Liberation Sans", "fontWeight": "bold", "fontSize": 47, "align": "left", "baseline": "alphabetic", "fill": "#000000"},
          "encoding": {
            "x": {"datum": 85.010923, "type": "quantitative", "scale": {"domain": [85.13, 82.13], "nice": false, "zero": false}},
            "y": {"datum": 23.271846, "type": "quantitative", "scale": {"domain": [20.51, 23.51], "nice": false, "zero": false}}
          }
        },
        {
          "data": {"values": [{}]},
          "mark": {"type": "text", "text": "eHWC J0534+220", "font": "Open Sans", "fontWeight": "bold", "fontSize": 50, "angle": -11, "align": "center", "baseline": "alphabetic", "fill": "#ffffff", "stroke": "#ffffff", "strokeWidth": 6, "strokeJoin": "round"},
          "encoding": {
            "x": {"datum": 82.9021, "type": "quantitative", "scale": {"domain": [85.13, 82.13], "nice": false, "zero": false}},
            "y": {"datum": 23.10667, "type": "quantitative", "scale": {"domain": [20.51, 23.51], "nice": false, "zero": false}}
          }
        },
        {
          "data": {"values": [{}]},
          "mark": {"type": "text", "text": "eHWC J0534+220", "font": "Open Sans", "fontWeight": "bold", "fontSize": 50, "angle": -11, "align": "center", "baseline": "alphabetic", "fill": "#000000"},
          "encoding": {
            "x": {"datum": 82.9021, "type": "quantitative", "scale": {"domain": [85.13, 82.13], "nice": false, "zero": false}},
            "y": {"datum": 23.10667, "type": "quantitative", "scale": {"domain": [20.51, 23.51], "nice": false, "zero": false}}
          }
        },
        {
          "data": {"values": [{}]},
          "mark": {"type": "rect", "fill": "#ffffff", "strokeWidth": 0},
          "encoding": {
            "x": {"datum": 85.907843, "type": "quantitative", "scale": {"domain": [85.13, 82.13], "nice": false, "zero": false}},
            "x2": {"datum": 81.596096},
            "y": {"datum": 21.10925, "type": "quantitative", "scale": {"domain": [20.51, 23.51], "nice": false, "zero": false}},
            "y2": {"datum": 20.485055}
          }
        },
        {
          "data": {"values": [{}]},
          "mark": {"type": "rule", "stroke": "#000000", "strokeWidth": 5},
          "encoding": {
            "x": {"datum": 85.917446, "type": "quantitative", "scale": {"domain": [85.13, 82.13], "nice": false, "zero": false}},
            "x2": {"datum": 81.6057},
            "y": {"datum": 21.10925, "type": "quantitative", "scale": {"domain": [20.51, 23.51], "nice": false, "zero": false}}
          }
        },
        {
          "data": {"values": [{}]},
          "mark": {"type": "rule", "stroke": "#000000", "strokeWidth": 5},
          "encoding": {
            "x": {"datum": 85.917446, "type": "quantitative", "scale": {"domain": [85.13, 82.13], "nice": false, "zero": false}},
            "x2": {"datum": 81.6057},
            "y": {"datum": 20.485055, "type": "quantitative", "scale": {"domain": [20.51, 23.51], "nice": false, "zero": false}}
          }
        },
        {
          "data": {"values": [{}]},
          "mark": {"type": "rule", "stroke": "#000000", "strokeWidth": 5},
          "encoding": {
            "x": {"datum": 85.907843, "type": "quantitative", "scale": {"domain": [85.13, 82.13], "nice": false, "zero": false}},
            "y": {"datum": 21.118853, "type": "quantitative", "scale": {"domain": [20.51, 23.51], "nice": false, "zero": false}},
            "y2": {"datum": 20.475452}
          }
        },
        {
          "data": {"values": [{}]},
          "mark": {"type": "text", "text": ["Crab Nebula > 100 TeV; point", "source assumption"], "lineHeight": 68, "font": "Liberation Sans", "fontWeight": "bold", "fontSize": 63.5, "align": "center", "baseline": "alphabetic", "fill": "#000000"},
          "encoding": {
            "x": {"datum": 83.75101, "type": "quantitative", "scale": {"domain": [85.13, 82.13], "nice": false, "zero": false}},
            "y": {"datum": 20.85189, "type": "quantitative", "scale": {"domain": [20.51, 23.51], "nice": false, "zero": false}}
          }
        }
      ]
    },
    {
      "width": 719,
      "height": 37,
      "data": {"values": [{}]},
      "mark": {
        "type": "rect",
        "stroke": "#3c3c3c",
        "strokeWidth": 1.5,
        "fill": {
          "gradient": "linear", "x1": 0, "y1": 0, "x2": 1, "y2": 0,
          "stops": [
            {"offset": 0.0, "color": "#fbfbfb"},
            {"offset": 0.3643, "color": "#7b7b7b"},
            {"offset": 0.3821, "color": "#6e3434"},
            {"offset": 0.4, "color": "#8b0000"},
            {"offset": 0.4571, "color": "#c80000"},
            {"offset": 0.5, "color": "#ff0000"},
            {"offset": 0.5193, "color": "#ff4500"},
            {"offset": 0.5329, "color": "#ff9500"},
            {"offset": 0.5471, "color": "#ffee00"},
            {"offset": 0.5679, "color": "#ffe200"},
            {"offset": 0.5929, "color": "#ffc400"},
            {"offset": 0.6121, "color": "#80e000"},
            {"offset": 0.6321, "color": "#10e010"},
            {"offset": 0.65, "color": "#00e000"},
            {"offset": 0.6964, "color": "#00e080"},
            {"offset": 0.7321, "color": "#00d8d0"},
            {"offset": 0.7514, "color": "#00c8ff"},
            {"offset": 0.7786, "color": "#0064ff"},
            {"offset": 0.7979, "color": "#0000ff"},
            {"offset": 0.825, "color": "#5000d0"},
            {"offset": 0.8464, "color": "#8800a8"},
            {"offset": 0.8821, "color": "#7a0090"},
            {"offset": 0.9107, "color": "#4a004a"},
            {"offset": 0.9429, "color": "#101010"},
            {"offset": 1.0, "color": "#000000"}
          ]
        }
      },
      "encoding": {
        "x": {
          "datum": -2, "type": "quantitative",
          "scale": {"domain": [-2, 12], "nice": false, "zero": false},
          "axis": {
            "orient": "bottom", "values": [-1, 0, 1, 2, 3, 4, 5, 6, 7, 8, 9, 10, 11], "format": "d", "title": "√TS",
            "tickSize": 9, "tickWidth": 1.5, "tickColor": "#333333",
            "labelFont": "DejaVu Serif", "labelFontSize": 40, "labelColor": "#1e1e1e", "labelPadding": 6,
            "labelFlush": false, "labelOverlap": false, "labelBound": false,
            "titleFont": "DejaVu Serif", "titleFontSize": 40, "titleFontWeight": "normal", "titleColor": "#1e1e1e", "titlePadding": 8
          }
        },
        "x2": {"datum": 12}
      }
    }
  ]
}
